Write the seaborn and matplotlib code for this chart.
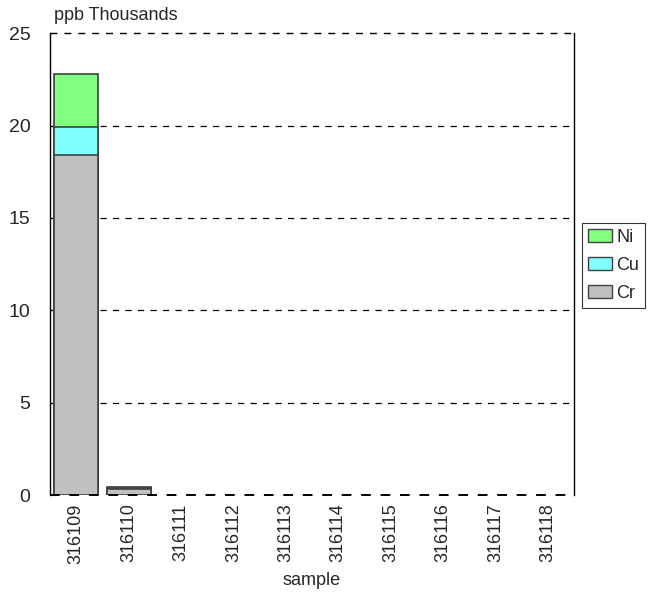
import matplotlib
matplotlib.use("Agg")
import matplotlib.pyplot as plt
import seaborn as sns
import pandas as pd
import numpy as np
from matplotlib.patches import Patch

samples = ["316109", "316110", "316111", "316112", "316113",
           "316114", "316115", "316116", "316117", "316118"]
cr = [18.4, 0.33, 0, 0, 0, 0, 0, 0, 0, 0]
cu = [1.5, 0.05, 0, 0, 0, 0, 0, 0, 0, 0]
ni = [2.9, 0.05, 0, 0, 0, 0, 0, 0, 0, 0]

colors = {"Ni": "#80FF80", "Cu": "#80FFFF", "Cr": "#C0C0C0"}

sns.set_style("white")
plt.rcParams["font.family"] = ["Liberation Sans", "DejaVu Sans"]

df = pd.DataFrame({"sample": samples, "Cr": cr, "Cu": cu, "Ni": ni})
df["CrCu"] = df["Cr"] + df["Cu"]
df["Total"] = df["CrCu"] + df["Ni"]

fig = plt.figure(figsize=(6.5, 6.03), dpi=100)
ax = fig.add_axes([0.077, 0.179, 0.806, 0.766])

for col, c in [("Total", colors["Ni"]), ("CrCu", colors["Cu"]), ("Cr", colors["Cr"])]:
    sns.barplot(data=df, x="sample", y=col, color=c, saturation=1,
                width=0.84, edgecolor="#404040", linewidth=1.2, ax=ax, zorder=3)

for p in ax.patches:
    if p.get_height() == 0:
        p.set_visible(False)

ax.set_xlim(-0.5, 9.5)
ax.set_ylim(0, 25)
ax.set_yticks([0, 5, 10, 15, 20, 25])
for v in [5, 10, 15, 20]:
    ax.axhline(v, color="black", linestyle=(0, (5, 5)), linewidth=0.9, zorder=1)
ax.axhline(25, color="black", linestyle=(0, (5, 5)), linewidth=1.0, zorder=4, clip_on=False)
ax.axhline(0, color="black", linestyle=(0, (5, 5)), linewidth=1.4, zorder=4, clip_on=False)

for s in ["left", "right"]:
    ax.spines[s].set_visible(True)
    ax.spines[s].set_color("black")
    ax.spines[s].set_linewidth(1.0)
ax.spines["top"].set_visible(False)
ax.spines["bottom"].set_visible(False)

ax.tick_params(axis="y", direction="in", length=4, width=0.8, labelsize=14, pad=14, left=True)
ax.tick_params(axis="x", length=0, labelsize=13, pad=6)
plt.setp(ax.get_xticklabels(), rotation=90)
ax.set_xlabel("sample", fontsize=13, labelpad=6)
ax.set_ylabel("")
fig.text(0.083, 0.96, "ppb Thousands", fontsize=13, ha="left", va="bottom")

handles = [Patch(facecolor=colors[k], edgecolor="#404040", label=k) for k in ["Ni", "Cu", "Cr"]]
leg = fig.legend(handles=handles, loc="center left", bbox_to_anchor=(0.895, 0.56),
                 frameon=True, fontsize=13, handlelength=1.3, handleheight=0.7,
                 handletextpad=0.25, labelspacing=0.6, borderpad=0.35, fancybox=False,
                 borderaxespad=0)
leg.get_frame().set_edgecolor("black")
leg.get_frame().set_linewidth(0.8)

fig.savefig("out.png", dpi=100)
